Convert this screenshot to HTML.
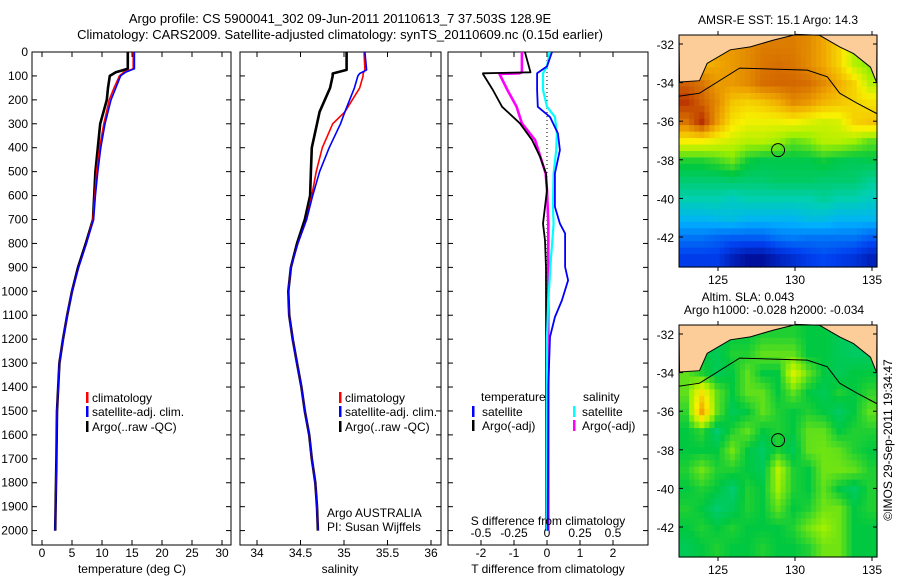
<!DOCTYPE html>
<html><head><meta charset="utf-8"><style>
html,body{margin:0;padding:0;background:#fff;}
svg{display:block;font-family:"Liberation Sans",sans-serif;}
</style></head><body>
<svg id="s" width="900" height="580" viewBox="0 0 900 580" xmlns="http://www.w3.org/2000/svg">
<text x="340" y="23" font-size="13" text-anchor="middle">Argo profile: CS 5900041_302 09-Jun-2011 20110613_7 37.503S 128.9E</text>
<text x="340" y="39" font-size="13" text-anchor="middle">Climatology: CARS2009. Satellite-adjusted climatology: synTS_20110609.nc (0.15d earlier)</text>
<text x="778" y="24" font-size="12" text-anchor="middle">AMSR-E SST: 15.1 Argo: 14.3</text>
<text x="748" y="301" font-size="12" text-anchor="middle">Altim. SLA: 0.043</text>
<text x="774" y="314" font-size="12" text-anchor="middle">Argo h1000: -0.028 h2000: -0.034</text>
<text transform="translate(892,440) rotate(-90)" font-size="12" text-anchor="middle">©IMOS 29-Sep-2011 19:34:47</text>
</svg>
<script>
// ---------- data ----------
const tDepth=[0,70,85,100,150,200,300,400,500,600,700,800,900,1000,1100,1200,1300,1500,1700,2000];
const tArgo=[14.3,14.3,12.3,11.3,11.0,10.8,9.7,9.3,8.9,8.7,8.5,7.3,6.0,5.0,4.2,3.5,2.9,2.5,2.4,2.2];
const tClim=[15.2,15.2,13.6,12.9,12.0,11.2,10.3,9.6,9.1,8.8,8.5,7.4,6.1,5.0,4.2,3.5,2.9,2.5,2.4,2.2];
const tSat=[15.4,15.4,13.9,13.1,12.3,11.5,10.5,9.8,9.3,8.9,8.6,7.4,6.1,5.0,4.2,3.5,2.9,2.5,2.4,2.2];
const sDepth=[0,75,90,100,150,250,300,400,500,600,700,800,900,1000,1100,1200,1300,1400,1500,1600,1700,1800,1900,2000];
const sArgo=[35.03,35.03,34.87,34.87,34.84,34.72,34.69,34.63,34.62,34.61,34.55,34.46,34.39,34.36,34.37,34.41,34.46,34.51,34.55,34.6,34.63,34.67,34.69,34.70];
const sClim=[35.23,35.24,35.22,35.22,35.18,35.01,34.87,34.75,34.68,34.63,34.57,34.47,34.39,34.36,34.37,34.41,34.46,34.51,34.55,34.6,34.63,34.67,34.69,34.70];
const sSat=[35.24,35.26,35.18,35.16,35.12,35.01,34.96,34.83,34.72,34.64,34.57,34.47,34.39,34.36,34.37,34.41,34.46,34.51,34.55,34.6,34.63,34.67,34.69,34.70];
const dDepthA=[0,85,89,92,159,229,298,368,438,508,577,717,787,900,2000];
const dTArgo=[-0.67,-0.5,-1.94,-1.94,-1.64,-1.36,-0.82,-0.45,-0.21,-0.03,0,-0.12,-0.06,-0.03,-0.02];
const dSArgo=[-0.19,-0.19,-0.21,-0.36,-0.30,-0.23,-0.19,-0.09,-0.05,-0.01,0,0.01,0.01,0.01,0.01];
const dDepthB=[0,60,89,159,229,271,340,410,508,647,717,758,898,954,1038,1108,1191,1400,2000];
const dTSat=[0.15,0,-0.3,-0.3,-0.28,0.09,0.33,0.39,0.24,0.24,0.39,0.55,0.55,0.64,0.45,0.24,0.09,0.04,0.02];
const dSSat=[0.02,0.0,-0.03,-0.03,0,0.06,0.075,0.07,0.05,0.045,0.05,0.045,0.025,0.02,0.01,0.005,0,0,0];
const depthTicks=[0,100,200,300,400,500,600,700,800,900,1000,1100,1200,1300,1400,1500,1600,1700,1800,1900,2000];
const tTicks=[0,5,10,15,20,25,30];
const sTicks=[34,34.5,35,35.5,36];
const sTickLbl=["34","34.5","35","35.5","36"];
const dTTicks=[-2,-1,0,1,2];
const dSTicks=[-0.5,-0.25,0,0.25,0.5];
const dSTickLbl=["-0.5","-0.25","0","0.25","0.5"];
const latTicks=[-32,-34,-36,-38,-40,-42];
const lonTicks=[125,130,135];
const sstGrid=[
[0.8,0.8,0.8,0.8,0.82,0.84,0.84,0.84,0.82,0.78,0.72,0.62,0.58],
[0.76,0.76,0.78,0.8,0.82,0.85,0.86,0.85,0.82,0.78,0.72,0.62,0.58],
[0.88,0.85,0.8,0.8,0.82,0.86,0.87,0.87,0.86,0.82,0.77,0.72,0.62],
[0.93,0.88,0.82,0.74,0.72,0.74,0.77,0.82,0.8,0.76,0.74,0.72,0.7],
[0.85,0.94,0.8,0.7,0.67,0.67,0.67,0.68,0.66,0.64,0.65,0.72,0.74],
[0.68,0.68,0.66,0.64,0.62,0.62,0.6,0.56,0.58,0.62,0.62,0.6,0.56],
[0.52,0.52,0.54,0.57,0.51,0.49,0.49,0.49,0.49,0.51,0.49,0.48,0.49],
[0.46,0.46,0.46,0.47,0.46,0.46,0.47,0.47,0.47,0.46,0.46,0.46,0.43],
[0.4,0.4,0.4,0.38,0.4,0.4,0.4,0.4,0.4,0.42,0.4,0.4,0.38],
[0.32,0.32,0.33,0.34,0.32,0.32,0.32,0.32,0.34,0.34,0.32,0.32,0.32],
[0.22,0.22,0.2,0.19,0.19,0.19,0.22,0.23,0.22,0.22,0.22,0.22,0.19],
[0.14,0.14,0.14,0.08,0.04,0.04,0.08,0.11,0.14,0.16,0.14,0.12,0.08]];
const slaGrid=[
[0.5,0.5,0.48,0.5,0.5,0.52,0.52,0.52,0.5,0.5,0.48,0.47,0.47],
[0.5,0.5,0.48,0.52,0.52,0.56,0.56,0.56,0.5,0.5,0.48,0.47,0.47],
[0.56,0.52,0.48,0.5,0.56,0.5,0.5,0.65,0.56,0.5,0.48,0.5,0.5],
[0.56,0.7,0.56,0.5,0.56,0.56,0.5,0.56,0.5,0.48,0.52,0.5,0.53],
[0.53,0.78,0.56,0.48,0.5,0.56,0.52,0.5,0.52,0.5,0.47,0.5,0.56],
[0.5,0.53,0.46,0.52,0.56,0.5,0.52,0.5,0.56,0.56,0.5,0.52,0.52],
[0.5,0.5,0.5,0.57,0.5,0.47,0.52,0.48,0.56,0.57,0.56,0.52,0.5],
[0.52,0.57,0.52,0.52,0.5,0.48,0.62,0.52,0.5,0.57,0.57,0.56,0.52],
[0.5,0.52,0.5,0.46,0.52,0.5,0.6,0.52,0.5,0.56,0.5,0.47,0.52],
[0.52,0.5,0.46,0.48,0.52,0.5,0.56,0.5,0.52,0.57,0.57,0.5,0.52],
[0.5,0.52,0.5,0.52,0.5,0.5,0.5,0.52,0.57,0.6,0.57,0.5,0.5],
[0.48,0.5,0.52,0.5,0.5,0.52,0.5,0.5,0.52,0.57,0.57,0.5,0.5]];
const coastLon=[122.5,123.8,124.3,125.8,127.1,128.6,130.1,131.6,132.9,133.8,134.9,135.3];
const coastLat=[-33.97,-33.9,-33.0,-32.3,-32.15,-31.8,-31.5,-31.55,-32.15,-32.5,-33.2,-34.0];
const shelfLon=[122.5,123.8,126.4,128.6,130.8,132.1,132.9,134.0,135.3];
const shelfLat=[-34.7,-34.55,-33.25,-33.3,-33.35,-33.7,-34.55,-35.05,-35.6];
const argoLon=128.9, argoLat=-37.5;

// ---------- helpers ----------
const S=document.getElementById('s');const NS='http://www.w3.org/2000/svg';
function mk(t,a,p){const e=document.createElementNS(NS,t);for(const k in a)e.setAttribute(k,a[k]);(p||S).appendChild(e);return e;}
const yD=d=>52+d*0.2393;
const xT=v=>42+v*6;
const xS=v=>257+(v-34)*87;
const xDT=v=>547+v*33;
const xDS=v=>547+v*132;
function pline(xs,ds,xf,col,w,name){
  let pts=xs.map((v,i)=>xf(v).toFixed(1)+','+yD(ds[i]).toFixed(1)).join(' ');
  const e=mk('polyline',{points:pts,fill:'none',stroke:col,'stroke-width':w,'stroke-linejoin':'round'});
  
  
}
function panel(x0,x1,name){
  const r=mk('rect',{x:x0,y:52,width:x1-x0,height:493,fill:'none',stroke:'#000','stroke-width':1});
  
  
}
function txt(x,y,s,anchor,size,name){
  const e=mk('text',{x:x,y:y,'font-size':size||12,'text-anchor':anchor||'start'});e.textContent=s;
  
  
  return e;
}
function xticks(vals,lbls,xf,y0,y1,ly,name){
  vals.forEach((v,i)=>{const x=xf(v);
    mk('line',{x1:x,x2:x,y1:y1,y2:y1-5,stroke:'#000'});
    mk('line',{x1:x,x2:x,y1:y0,y2:y0+5,stroke:'#000'});
    if(ly)txt(x,ly,lbls[i],'middle',12,name);});
}
function yticks(x0,x1,lbl){
  depthTicks.forEach(d=>{const y=yD(d);
    mk('line',{x1:x0,x2:x0+5,y1:y,y2:y,stroke:'#000'});
    mk('line',{x1:x1,x2:x1-5,y1:y,y2:y,stroke:'#000'});
    if(lbl)txt(28,y+4,String(d),'end',12,'depth-tick-label');});
}
function legbar(x,y,col,name){const e=mk('rect',{x:x,y:y-10,width:2.5,height:11,fill:col});
  
  }

// ---------- panel 1: temperature ----------
panel(32,231,'temperature-panel');
yticks(32,231,true);
xticks(tTicks,tTicks.map(String),xT,52,545,557,'temperature-tick-label');
pline(tArgo,tDepth,xT,'#000',2.6,'argo-temperature-line');
pline(tClim,tDepth,xT,'#f00',1.6,'climatology-temperature-line');
pline(tSat,tDepth,xT,'#00f',1.6,'satellite-temperature-line');
txt(132,573,'temperature (deg C)','middle',12,'temperature-axis-title');
legbar(86,402,'#f00','legend-climatology-swatch');txt(92,402,'climatology','start',12,'legend-climatology');
legbar(86,416,'#00f','legend-satellite-swatch');txt(92,416,'satellite-adj. clim.','start',12,'legend-satellite');
legbar(86,431,'#000','legend-argo-swatch');txt(92,431,'Argo(..raw -QC)','start',12,'legend-argo');

// ---------- panel 2: salinity ----------
panel(240,441,'salinity-panel');
yticks(240,441,false);
xticks(sTicks,sTickLbl,xS,52,545,557,'salinity-tick-label');
pline(sArgo,sDepth,xS,'#000',2.6,'argo-salinity-line');
pline(sClim,sDepth,xS,'#f00',1.6,'climatology-salinity-line');
pline(sSat,sDepth,xS,'#00f',1.6,'satellite-salinity-line');
txt(340,573,'salinity','middle',12,'salinity-axis-title');
legbar(339,402,'#f00','legend2-climatology-swatch');txt(345,402,'climatology','start',12,'legend2-climatology');
legbar(339,416,'#00f','legend2-satellite-swatch');txt(345,416,'satellite-adj. clim.','start',12,'legend2-satellite');
legbar(339,431,'#000','legend2-argo-swatch');txt(345,431,'Argo(..raw -QC)','start',12,'legend2-argo');
txt(327,517,'Argo AUSTRALIA','start',12,'argo-australia-label');
txt(327,531,'PI: Susan Wijffels','start',12,'pi-label');

// ---------- panel 3: differences ----------
panel(448,648,'difference-panel');
yticks(448,648,false);
xticks(dTTicks,dTTicks.map(String),xDT,52,545,557,'t-diff-tick-label');
dSTicks.forEach((v,i)=>txt(xDS(v),537,dSTickLbl[i],'middle',12,'s-diff-tick-label'));
mk('line',{x1:547,x2:547,y1:52,y2:300,stroke:'#000','stroke-dasharray':'1,3'});
pline(dSArgo,dDepthA,xDS,'#f0f',2.6,'argo-salinity-diff-line');
pline(dTArgo,dDepthA,xDT,'#000',1.8,'argo-temperature-diff-line');
pline(dSSat,dDepthB,xDS,'#0ff',2.2,'satellite-salinity-diff-line');
pline(dTSat,dDepthB,xDT,'#00f',1.8,'satellite-temperature-diff-line');
txt(548,525,'S difference from climatology','middle',12,'s-diff-axis-title');
txt(548,573,'T difference from climatology','middle',12,'t-diff-axis-title');
txt(481,401,'temperature','start',12,'legend3-temperature-heading');
txt(583,401,'salinity','start',12,'legend3-salinity-heading');
legbar(472,416,'#00f','legend3-t-satellite-swatch');txt(482,416,'satellite','start',12,'legend3-t-satellite');
legbar(472,430,'#000','legend3-t-argo-swatch');txt(482,430,'Argo(-adj)','start',12,'legend3-t-argo');
legbar(573,416,'#0ff','legend3-s-satellite-swatch');txt(582,416,'satellite','start',12,'legend3-s-satellite');
legbar(573,430,'#f0f','legend3-s-argo-swatch');txt(582,430,'Argo(-adj)','start',12,'legend3-s-argo');

// ---------- maps ----------
const cmapStops=[[0,[0,0,128]],[0.15,[0,64,240]],[0.3,[0,176,255]],[0.4,[0,208,176]],[0.5,[0,200,64]],[0.6,[160,240,0]],[0.68,[248,240,0]],[0.78,[240,168,0]],[0.88,[208,96,0]],[1,[160,0,0]]];
function cmap(v){v=Math.max(0,Math.min(1,v));
  for(let k=1;k<cmapStops.length;k++){if(v<=cmapStops[k][0]){const a=cmapStops[k-1],b=cmapStops[k],t=(v-a[0])/(b[0]-a[0]);
    return 'rgb('+[0,1,2].map(c=>Math.round(a[1][c]+(b[1][c]-a[1][c])*t)).join(',')+')';}}
  return 'rgb(160,0,0)';}
function map(grid,y0,name){
  const x0=679,x1=877,y1=y0+232;
  const lonX=l=>718+(l-125)*15.4, latY=la=>y0+9+(-32-la)*19.3;
  const g=mk('g',{});
  const R=grid.length,C=grid[0].length,sub=3;
  const cw=(x1-x0)/(C*sub),ch=(y1-y0)/(R*sub);
  for(let i=0;i<R*sub;i++)for(let j=0;j<C*sub;j++){
    const fi=Math.max(0,Math.min(R-1,(i+0.5)/sub-0.5)),fj=Math.max(0,Math.min(C-1,(j+0.5)/sub-0.5));
    const i0=Math.floor(fi),j0=Math.floor(fj),i1=Math.min(R-1,i0+1),j1=Math.min(C-1,j0+1),a=fi-i0,b=fj-j0;
    const v=(grid[i0][j0]*(1-b)+grid[i0][j1]*b)*(1-a)+(grid[i1][j0]*(1-b)+grid[i1][j1]*b)*a;
    const c=mk('rect',{x:(x0+j*cw).toFixed(2),y:(y0+i*ch).toFixed(2),width:(cw+0.6).toFixed(2),height:(ch+0.6).toFixed(2),fill:cmap(v)},g);
    
    
  }
  let land='M'+x0+','+y0+' L'+coastLon.map((l,i)=>lonX(l).toFixed(1)+','+latY(coastLat[i]).toFixed(1)).join(' L')+' L'+x1+','+y0+' Z';
  const lp=mk('path',{d:land,fill:'#fccc99',stroke:'#000','stroke-width':1},g);
  
  const sh=mk('polyline',{points:shelfLon.map((l,i)=>lonX(l).toFixed(1)+','+latY(shelfLat[i]).toFixed(1)).join(' '),fill:'none',stroke:'#000','stroke-width':1},g);
  
  const ci=mk('circle',{cx:lonX(argoLon),cy:latY(argoLat),r:6.5,fill:'none',stroke:'#000'},g);
  
  const fr=mk('rect',{x:x0,y:y0,width:x1-x0,height:y1-y0,fill:'none',stroke:'#000'},g);
  
  latTicks.forEach(la=>{const y=latY(la);mk('line',{x1:x0,x2:x0+4,y1:y,y2:y,stroke:'#000'},g);mk('line',{x1:x1,x2:x1-4,y1:y,y2:y,stroke:'#000'},g);
    txt(674,y+5,String(la),'end',12,'latitude-tick-label');});
  lonTicks.forEach(l=>{const x=lonX(l);mk('line',{x1:x,x2:x,y1:y0,y2:y0-4,stroke:'#000'},g);mk('line',{x1:x,x2:x,y1:y1,y2:y1+4,stroke:'#000'},g);
    txt(x,y1+17,String(l),'middle',12,'longitude-tick-label');});
}
map(sstGrid,35,'sst-map');
map(slaGrid,325,'sla-map');
</script>
</body></html>
